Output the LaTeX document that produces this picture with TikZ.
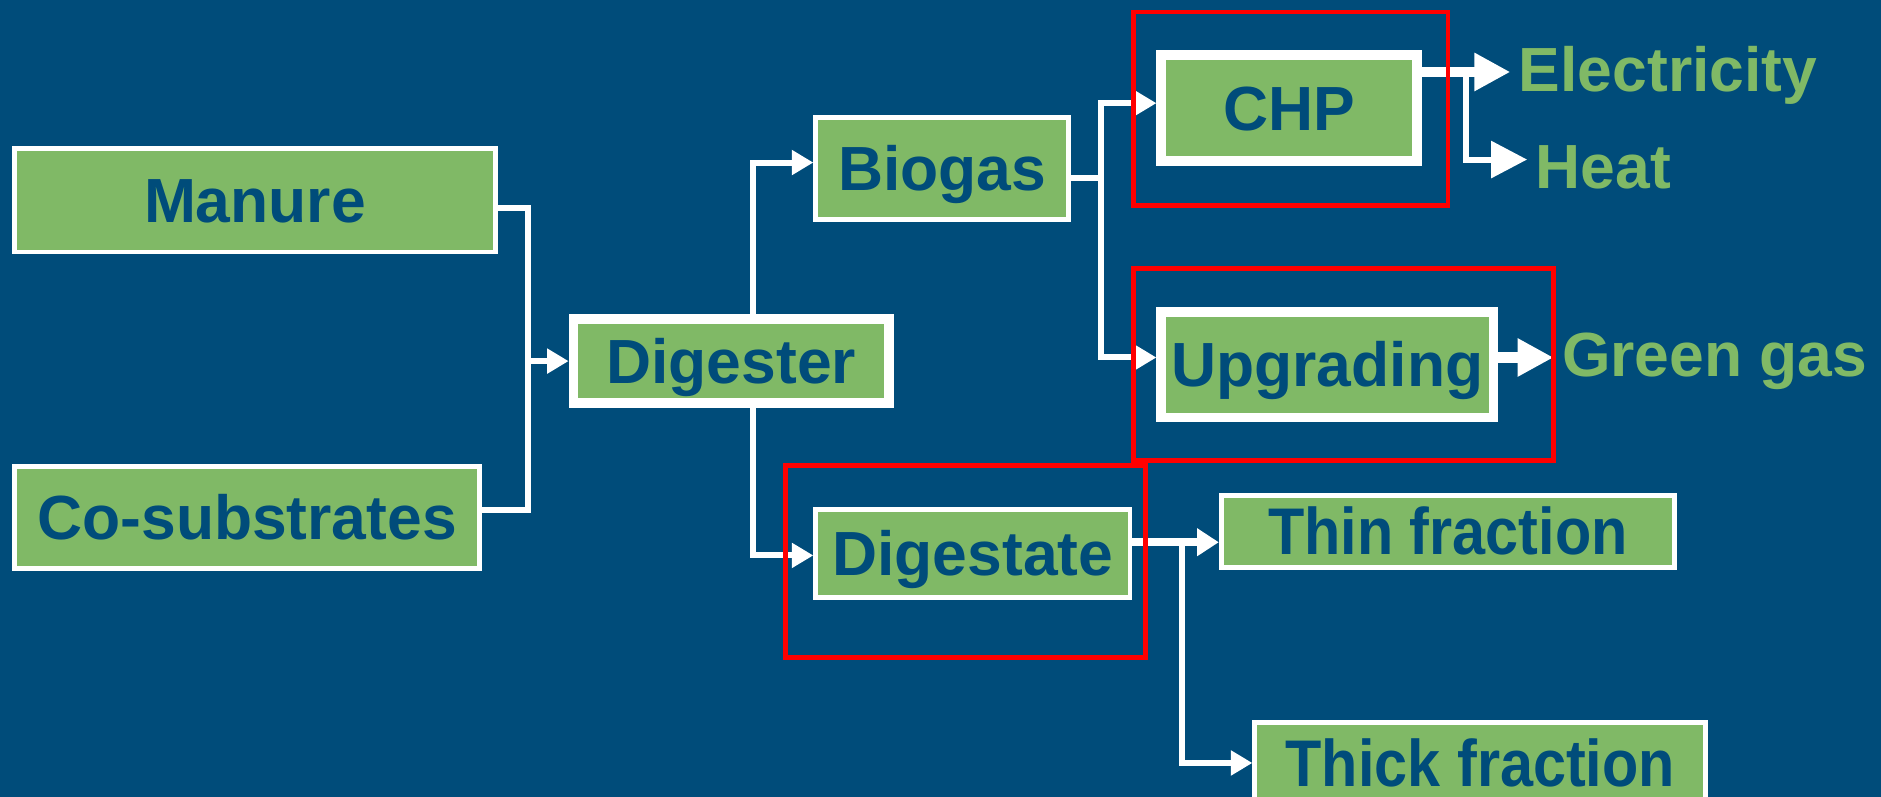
\documentclass[tikz,border=0pt]{standalone}
\usepackage{fontspec}
\setmainfont{Liberation Sans}
\usetikzlibrary{arrows.meta,calc}
\definecolor{bgblue}{RGB}{0,76,122}
\definecolor{boxgreen}{RGB}{128,185,102}
\definecolor{redline}{RGB}{255,0,0}
\begin{document}
\begin{tikzpicture}[x=1pt,y=-1pt,
  box/.style={draw=white, fill=boxgreen, line width=4pt, inner sep=0pt, text=bgblue,
    font=\fontsize{52}{60}\selectfont\bfseries, text height=37pt, text depth=0pt},
  thickbox/.style={box, line width=8pt},
  lbl/.style={inner sep=0pt, text=boxgreen, font=\fontsize{52}{60}\selectfont\bfseries, anchor=base west},
  conn/.style={draw=white, line width=5pt, line cap=rect, line join=miter},
  arr/.style={conn, -{Triangle[length=18pt,width=20pt]}},
  bigarr/.style={conn, line width=9pt, -{Triangle[length=30pt,width=30pt]}, shorten >=7pt},
  redbox/.style={draw=redline, line width=4pt, inner sep=0pt, fill=none}
]
\useasboundingbox (0,0) rectangle (1568,664);
\fill[bgblue] (0,0) rectangle (1568,664);

% boxes
\node[box, minimum width=401pt, minimum height=86pt] (manure) at (212.5,167) {Manure};
\node[box, minimum width=388pt, minimum height=85pt] (cosub) at (206,431.5) {Co-substrates};
\node[thickbox, minimum width=263pt, minimum height=70pt] (digester) at (609.5,301) {Digester};
\node[box, minimum width=211pt, minimum height=85pt] (biogas) at (785.5,140.5) {Biogas};
\node[thickbox, minimum width=213pt, minimum height=88pt] (chp) at (1074.5,90) {CHP};
\node[thickbox, minimum width=277pt, minimum height=88pt] (upgrading) at (1106.5,304) {Upgrading};
\node[box, minimum width=262pt, minimum height=73pt] (digestate) at (811,461.5) {Digestate};
\node[box, minimum width=378pt, minimum height=60pt, font=\fontsize{55}{62}\selectfont\bfseries, text height=39pt] (thin) at (1207,443) {\scalebox{0.9}[1]{Thin fraction}};
\node[box, minimum width=376pt, minimum height=68pt, font=\fontsize{55}{62}\selectfont\bfseries, text height=39pt] (thick) at (1234,636) {\scalebox{0.9}[1]{Thick fraction}};

% output labels
\node[lbl] (elec) at (1266,76) {Electricity};
\node[lbl] (heat) at (1280,157) {Heat};
\node[lbl] (ggas) at (1302,314) {Green gas};

% junctions
\coordinate (jIn) at (440,301);
\coordinate (jB) at (918,148);
\coordinate (jC) at (1222,60);
\coordinate (jD) at (985,452);

% connectors
\draw[conn] ($(manure.east)+(0,6)$) -| (jIn) |- ($(cosub.east)+(0,-6)$);
\draw[arr] (jIn) -- (digester.west);
\draw[arr] ($(digester.north)+(18,0)$) |- ($(biogas.west)+(0,-5)$);
\draw[arr] ($(digester.south)+(18,0)$) |- ($(digestate.west)+(0,1.5)$);
\draw[conn] ($(biogas.east)+(0,7.5)$) -- (jB);
\draw[arr] (jB) |- ($(chp.west)+(0,-4)$);
\draw[arr] (jB) |- ($(upgrading.west)+(0,-6)$);
\draw[bigarr] ($(chp.east)+(0,-30)$) -- ($(elec.base west)+(0,-16)$);
\draw[conn, -{Triangle[length=30pt,width=30pt]}, shorten >=7pt] (jC) |- ($(heat.base west)+(0,-24)$);
\draw[bigarr] ($(upgrading.east)+(0,-6)$) -- ($(ggas.base west)+(0,-16)$);
\draw[conn, line width=7pt, -{Triangle[length=18pt,width=22pt]}] ($(digestate.east)+(0,-9.5)$) -- ($(thin.west)+(0,9)$);
\draw[arr] (jD) |- (thick.west);

% red frames
\node[redbox, minimum width=262pt, minimum height=161pt] (redchp) at (1076,90.5) {};
\node[redbox, minimum width=350pt, minimum height=160pt] (redup) at (1120,304) {};
\node[redbox, minimum width=300pt, minimum height=160pt] (reddig) at (805,468) {};
\end{tikzpicture}
\end{document}
